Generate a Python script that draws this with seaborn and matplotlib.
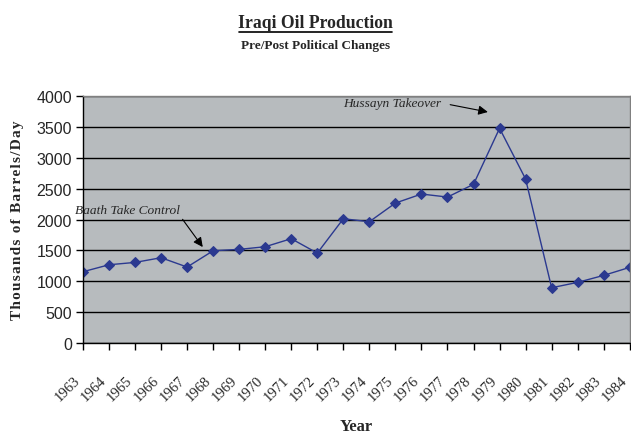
import pandas as pd
import matplotlib.pyplot as plt
import seaborn as sns

# Iraqi oil production, thousands of barrels/day
years = list(range(1963, 1985))
production = [1155, 1268, 1306, 1382, 1231, 1495, 1517, 1560, 1690, 1457, 2013,
              1965, 2267, 2413, 2364, 2570, 3477, 2656, 896, 983, 1096, 1226]
y_ticks = list(range(0, 4001, 500))

df = pd.DataFrame({'Year': years, 'Production': production})

sns.set_style("white")
plt.rcParams['font.family'] = ['Liberation Serif', 'DejaVu Serif']

fig = plt.figure(figsize=(6.31, 4.35), dpi=100)
ax = fig.add_axes([0.1315, 0.209, 0.8665, 0.568])
ax.set_facecolor('#B7BBBE')

sns.lineplot(data=df, x='Year', y='Production', ax=ax, color='#2B3990',
             marker='D', markersize=5, markeredgecolor='#2B3990', linewidth=1)

ax.set_xlim(1963, 1984)
ax.set_ylim(0, 4000)
ax.set_yticks(y_ticks)
ax.set_xticks(years)
ax.set_yticklabels([str(v) for v in y_ticks], family='Liberation Sans', fontsize=11.5)
ax.set_xticklabels([str(y) for y in years], rotation=45, ha='right', va='bottom',
                   rotation_mode='anchor', fontsize=10.5)
ax.tick_params(axis='both', direction='out', length=5, width=1, color='black',
               bottom=True, left=True)
ax.tick_params(axis='x', pad=23)
ax.tick_params(axis='y', pad=3)

ax.grid(axis='y', color='black', linewidth=1)
ax.set_axisbelow(True)
for side in ['left', 'bottom']:
    ax.spines[side].set_color('black')
    ax.spines[side].set_linewidth(1)
for side in ['top', 'right']:
    ax.spines[side].set_color('#808080')
    ax.spines[side].set_linewidth(1)

ax.set_xlabel('Year', fontsize=12, fontweight='bold', labelpad=11)
# slightly letter-spaced axis title, as in the original
ylab = '\u200a'.join('Thousands of Barrels/Day')
ax.set_ylabel(ylab, fontsize=11, fontweight='bold', labelpad=9)

# annotations
ax.annotate('Baath Take Control', xy=(1967.6, 1555), xytext=(1962.7, 2154),
            fontsize=9.6, style='italic', va='center', annotation_clip=False,
            arrowprops=dict(arrowstyle='-|>', color='black', lw=0.8,
                            mutation_scale=14, shrinkA=0, shrinkB=0,
                            relpos=(1.0, 0.0)))
ax.annotate('Hussayn Takeover', xy=(1978.55, 3741), xytext=(1973.0, 3887),
            fontsize=9.6, style='italic', va='center',
            arrowprops=dict(arrowstyle='-|>', color='black', lw=0.8,
                            mutation_scale=14, shrinkA=4, shrinkB=0,
                            relpos=(1.0, 0.5)))

fig.text(0.5, 0.947, 'Iraqi Oil Production', ha='center', va='center',
         fontsize=12.7, fontweight='bold')
# underline for title
fig.lines.append(plt.Line2D([0.378, 0.622], [0.925, 0.925], color='black',
                            linewidth=1.2, transform=fig.transFigure))
fig.text(0.5, 0.895, 'Pre/Post Political Changes', ha='center', va='center',
         fontsize=9.5, fontweight='bold')

plt.savefig('out.png', dpi=100)
